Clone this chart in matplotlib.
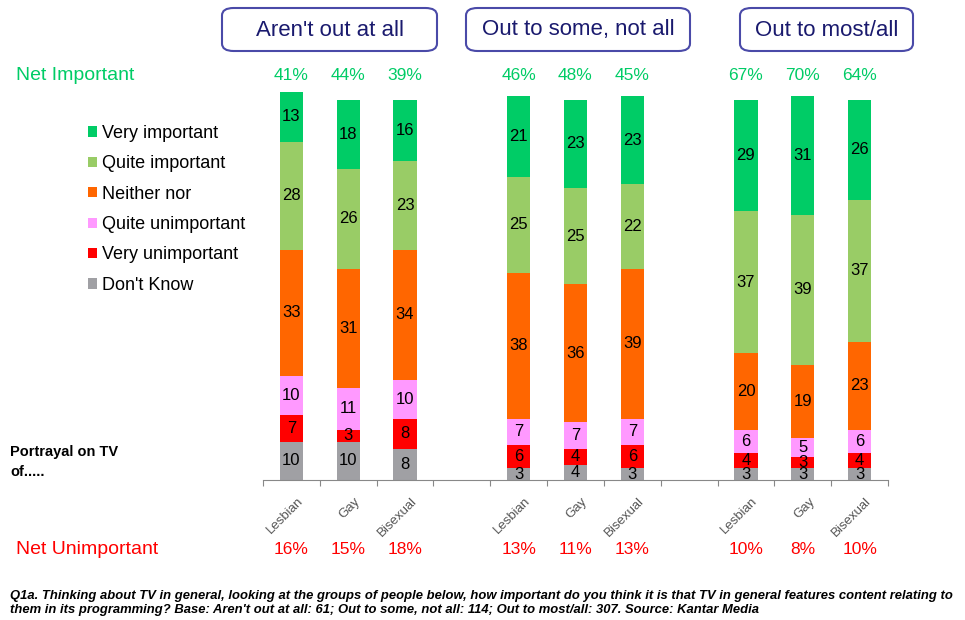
import matplotlib.pyplot as plt
from matplotlib.patches import FancyBboxPatch, Patch

plt.rcParams['font.family'] = ['Liberation Sans', 'DejaVu Sans']

# ---------------------------
# Data
# ---------------------------
groups = ["Aren't out at all", "Out to some, not all", "Out to most/all"]
orientations = ['Lesbian', 'Gay', 'Bisexual']

answers = ['Very important', 'Quite important', 'Neither nor',
           'Quite unimportant', 'Very unimportant', "Don't Know"]
colors = ['#00cc66', '#99cc66', '#ff6600', '#ff99ff', '#ff0000', '#a0a0a4']

# one list per answer, 9 bars: 3 groups x (Lesbian, Gay, Bisexual)
very_important    = [13, 18, 16, 21, 23, 23, 29, 31, 26]
quite_important   = [28, 26, 23, 25, 25, 22, 37, 39, 37]
neither_nor       = [33, 31, 34, 38, 36, 39, 20, 19, 23]
quite_unimportant = [10, 11, 10, 7, 7, 7, 6, 5, 6]
very_unimportant  = [7, 3, 8, 6, 4, 6, 4, 3, 4]
dont_know         = [10, 10, 8, 3, 4, 3, 3, 3, 3]

net_important   = [41, 44, 39, 46, 48, 45, 67, 70, 64]
net_unimportant = [16, 15, 18, 13, 11, 13, 10, 8, 10]

series = [very_important, quite_important, neither_nor,
          quite_unimportant, very_unimportant, dont_know]

# bar slots: a blank slot between each group
xpos = [g * 4 + i for g in range(len(groups)) for i in range(len(orientations))]
xlabels = orientations * len(groups)

W, H = 965, 620
fig = plt.figure(figsize=(W / 100, H / 100), dpi=100)
ax = fig.add_axes([263 / W, 140 / H, 625 / W, 388 / H])

# stack from the bottom: Don't Know first
bottoms = [0] * len(xpos)
for vals, col in zip(series[::-1], colors[::-1]):
    ax.bar(xpos, vals, width=0.41, bottom=bottoms, color=col, edgecolor='none')
    for x, b, v in zip(xpos, bottoms, vals):
        ax.text(x, b + v / 2, str(v), ha='center', va='center',
                fontsize=12, color='black')
    bottoms = [b + v for b, v in zip(bottoms, vals)]

ax.set_xlim(-0.5, 10.5)
ax.set_ylim(0, 101)
for s in ['top', 'right', 'left']:
    ax.spines[s].set_visible(False)
ax.spines['bottom'].set_color('#888888')
ax.set_yticks([])
ax.set_xticks([x - 0.5 for x in range(12)])
ax.set_xticklabels([])
ax.tick_params(axis='x', length=4, color='#888888')
for x, lab in zip(xpos, xlabels):
    ax.text(x + 0.1, -4, lab, rotation=45, ha='right', va='top',
            fontsize=9.5, color='#555555', rotation_mode='anchor')

# net figures above and below the bars
for x, v in zip(xpos, net_important):
    ax.text(x, 405 / 388, f'{v}%', transform=ax.get_xaxis_transform(),
            ha='center', va='center', fontsize=12.5, color='#00cc66')
for x, v in zip(xpos, net_unimportant):
    ax.text(x, -70 / 388, f'{v}%', transform=ax.get_xaxis_transform(),
            ha='center', va='center', fontsize=12.5, color='#ff0000')
fig.text(16 / W, 1 - 75 / H, 'Net Important', fontsize=14, color='#00cc66',
         va='center', ha='left')
fig.text(16 / W, 1 - 550 / H, 'Net Unimportant', fontsize=14, color='#ff0000',
         va='center', ha='left')

# group headers in rounded boxes
boxes = [(222, 437), (466, 690), (740, 913)]
for (x0, x1), name in zip(boxes, groups):
    box = FancyBboxPatch((x0 / W, 1 - 51 / H), (x1 - x0) / W, 43 / H,
                         boxstyle='round,pad=0,rounding_size=0.012',
                         transform=fig.transFigure, facecolor='white',
                         edgecolor='#4a4aa8', linewidth=1.5)
    fig.patches.append(box)
    fig.text((x0 + x1) / 2 / W, 1 - 30 / H, name, ha='center', va='center',
             fontsize=16, color='#1a1a6e')

# legend
handles = [Patch(facecolor=c, edgecolor='none', label=a)
           for a, c in zip(answers, colors)]
fig.legend(handles=handles, loc='upper left',
           bbox_to_anchor=(79 / W, 1 - 116 / H), frameon=False,
           fontsize=13, handlelength=0.5, handleheight=0.5,
           handletextpad=0.3, labelspacing=0.74, borderpad=0)

fig.text(10 / W, 1 - 462 / H, 'Portrayal on TV\nof.....', fontsize=10.5,
         fontweight='bold', va='center', ha='left', linespacing=1.6)

note = ("Q1a. Thinking about TV in general, looking at the groups of people below, "
        "how important do you think it is that TV in general features content relating to\n"
        "them in its programming? Base: Aren't out at all: 61; Out to some, not all: 114; "
        "Out to most/all: 307. Source: Kantar Media")
fig.text(10 / W, 1 - 603 / H, note, fontsize=9.4, fontweight='bold',
         style='italic', va='center', ha='left', linespacing=1.15)

fig.savefig('out.png', dpi=100)
